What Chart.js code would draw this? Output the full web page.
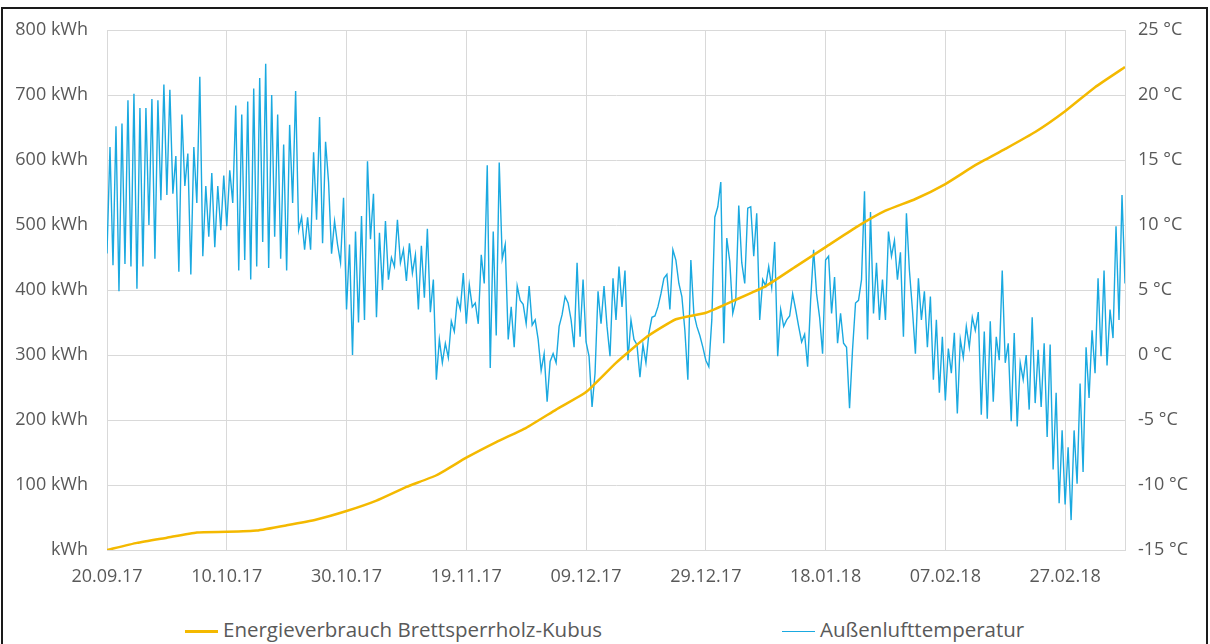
<!DOCTYPE html>
<html>
<head>
<meta charset="utf-8">
<script src="https://cdn.jsdelivr.net/npm/chart.js@4.4.1/dist/chart.umd.min.js"></script>
<style>
  body { margin: 0; background: #fff; }
  #wrap { position: relative; width: 1210px; height: 644px; overflow: hidden; background: #fff; }
  #frame { position: absolute; left: 1px; top: 7px; width: 1203px; height: 700px; border: 2px solid #1a1a1a; }
  #chartBox { position: absolute; left: 0; top: 0; width: 1210px; height: 600px; }
  #legend { position: absolute; top: 615px; left: 0; width: 1210px; height: 28px;
            font-family: 'Open Sans', sans-serif; font-size: 20.5px; color: #595959; }
  .item { position: absolute; top: 0; line-height: 28px; white-space: nowrap; }
  .swatch { display: inline-block; width: 33px; vertical-align: middle; margin-right: 5px; }
</style>
</head>
<body>
<div id="wrap">
  <div id="frame"></div>
  <div id="chartBox"><canvas id="energyChart" width="1210" height="600"></canvas></div>
  <div id="legend"></div>
</div>
<script>
// x axis: days since 20.09.17
const tickDays = [0, 20, 40, 60, 80, 100, 120, 140, 160];
const tickLabels = ['20.09.17', '10.10.17', '30.10.17', '19.11.17', '09.12.17', '29.12.17', '18.01.18', '07.02.18', '27.02.18'];

// cumulative energy use, kWh, every 5 days
const energyDays = [0, 5, 10, 15, 20, 25, 30, 35, 40, 45, 50, 55, 60, 65, 70, 75, 80, 85,
                    90, 95, 100, 105, 110, 115, 120, 125, 130, 135, 140, 145, 150, 155, 160, 165, 170];
const energyKWh = [0, 11, 19, 27, 28, 30, 38, 47, 60, 76, 97, 115, 142, 166, 188, 216, 243, 288,
                   327, 355, 365, 385, 406, 436, 466, 496, 522, 540, 563, 592, 617, 643, 675, 712, 743];

// outdoor air temperature, °C, one reading every half day from 20.09.17
const tempStepDays = 0.5;
const temperature = [
  7.8, 16.0, 6.9, 17.6, 4.9, 17.8, 7.0, 19.6, 6.8, 20.1,
  5.1, 19.0, 6.8, 19.0, 10.0, 19.7, 7.4, 19.6, 11.9, 20.8,
  12.3, 20.4, 12.4, 15.3, 6.4, 18.5, 13.0, 15.5, 6.2, 16.0,
  11.7, 21.4, 7.6, 13.0, 9.1, 14.0, 8.3, 13.0, 9.6, 13.8,
  9.9,
  14.2, 11.7, 19.2, 6.5, 18.5, 7.3, 19.5, 5.8, 20.5, 6.8,
  21.3, 8.7, 22.4, 6.7, 20.0, 9.1, 18.5, 7.4, 16.2, 6.5,
  17.7, 11.7, 20.3, 9.6, 10.6, 8.1, 10.6, 8.1, 15.6, 10.4,
  18.3, 8.6, 16.4, 13.3, 7.8, 10.3, 8.5, 7.1, 12.1, 3.5,
  8.5, 0.0, 9.5, 2.5, 10.7, 2.7, 14.9, 8.9, 12.4, 2.9,
  9.4, 5.0, 10.3, 5.8, 7.5, 6.8, 10.4, 7.1, 8.1, 5.7,
  8.6, 6.3, 7.7, 3.5, 8.4, 4.4, 9.7, 3.3, 5.8, -1.9,
  1.2, -0.6, 0.9, -0.2, 2.6, 1.8, 4.3, 3.5, 6.3, 2.4,
  5.4, 3.7, 4.0, 2.4, 7.7, 5.5, 14.6, -1.0, 9.5, 1.5,
  14.8, 7.4, 8.5, 1.2, 3.7, 0.6, 5.3, 4.2, 3.9, 2.4,
  5.3, 2.3, 2.7, 1.2, -1.2, 0.1, -3.6, -0.5, 0.1, -0.6,
  2.2, 3.1, 4.5, 4.0, 2.7, 0.6, 7.1, 1.4, 5.8, 1.0,
  -0.1, -4.0, -1.4, 4.9, 2.4, 5.3, 2.2, -0.1, 5.9, 2.7,
  6.8, 3.7, 6.5, -0.4, 2.7, 1.2, 0.8, -1.7, 0.8, -0.6,
  1.7, 2.9, 3.0, 3.7, 4.7, 5.9, 6.2, 3.5, 8.1, 7.3,
  5.5, 4.5, 1.9, -1.9, 7.3, 3.2, 2.2, 1.5, 0.6, -0.4,
  -0.9, 2.7, 10.6, 11.4, 13.3, 0.9, 9.0, 7.2, 3.2, 4.2,
  11.5, 7.1, 5.5, 11.3, 11.4, 7.6, 10.9, 2.7, 5.8, 5.3,
  6.8, 5.2, 8.7, -0.1, 3.5, 2.2, 2.7, 3.0, 4.7, 3.5,
  2.2, 1.0, 1.6, -0.9, 4.2, 8.1, 4.7, 2.9, 0.1, 7.3,
  7.6, 3.2, 6.0, 0.9, 3.2, 0.9, 0.6, -4.1, 0.4, 4.0,
  4.2, 5.8, 12.6, 1.2, 11.0, 3.2, 7.1, 2.7, 5.8, 2.7,
  9.5, 7.6, 8.8, 5.8, 7.9, 1.4, 10.9, 6.5, 3.5, 0.1,
  5.9, 2.7, 4.9, 0.6, 4.5, -1.9, 2.7, -2.9, 1.4, -3.5,
  0.5, -1.4, 1.7, -4.5, 1.2, -0.2, 2.2, 0.6, 2.9, 1.9,
  3.3, -4.6, 1.8, -4.9, 2.6, -3.6, 1.4, -0.4, 6.5, -0.6,
  0.9, -5.1, 1.7, -5.5, -0.6, -1.9, 0.0, -4.2, 2.9, -3.7,
  0.4, -4.0, 0.9, -6.3, 0.8, -8.8, -2.9, -11.4, -5.8, -11.5,
  -7.1, -12.7, -5.8, -9.9, -2.2, -9.0, 0.6, -3.3, 1.9, -1.4,
  5.9, -0.1, 6.5, -0.8, 3.5, 1.3, 9.9, 2.7, 12.3, 5.5
];

const seriesNames = ['Energieverbrauch Brettsperrholz-Kubus', 'Außenlufttemperatur'];
const seriesColors = ['#F4B900', '#1AA9E0'];

const textColor = '#595959';
const gridColor = '#d9d9d9';
const tickFont = { family: "'Open Sans', sans-serif", size: 18 };

const ctx = document.getElementById('energyChart').getContext('2d');
new Chart(ctx, {
    type: 'line',
    data: {
        datasets: [{
            label: seriesNames[0],
            data: energyDays.map((d, i) => ({ x: d, y: energyKWh[i] })),
            borderColor: seriesColors[0],
            backgroundColor: seriesColors[0],
            borderWidth: 2.5,
            pointRadius: 0,
            tension: 0.15,
            yAxisID: 'y'
        }, {
            label: seriesNames[1],
            data: temperature.map((t, i) => ({ x: i * tempStepDays, y: t })),
            borderColor: seriesColors[1],
            backgroundColor: seriesColors[1],
            borderWidth: 1.4,
            pointRadius: 0,
            tension: 0,
            yAxisID: 'y1'
        }]
    },
    options: {
        responsive: false,
        animation: false,
        layout: { padding: { top: 30, left: 0, right: 0, bottom: 0 } },
        plugins: {
            legend: { display: false },
            tooltip: { enabled: false }
        },
        scales: {
            x: {
                type: 'linear',
                min: 0,
                max: 170,
                afterBuildTicks: s => { s.ticks = tickDays.map(v => ({ value: v })); },
                afterFit: s => { s.height = 50; },
                ticks: {
                    callback: v => tickLabels[tickDays.indexOf(v)],
                    padding: 16,
                    maxRotation: 0,
                    autoSkip: false,
                    color: textColor,
                    font: tickFont
                },
                grid: { color: gridColor, drawTicks: false },
                border: { color: gridColor }
            },
            y: {
                position: 'left',
                min: 0,
                max: 800,
                afterFit: s => { s.width = 107; },
                ticks: {
                    stepSize: 100,
                    callback: v => v === 0 ? 'kWh' : v + ' kWh',
                    padding: 19,
                    color: textColor,
                    font: tickFont
                },
                grid: { color: gridColor, drawTicks: false },
                border: { color: gridColor }
            },
            y1: {
                position: 'right',
                min: -15,
                max: 25,
                afterFit: s => { s.width = 85; },
                ticks: {
                    stepSize: 5,
                    callback: v => v + ' °C',
                    padding: 13,
                    color: textColor,
                    font: tickFont
                },
                grid: { drawOnChartArea: false, drawTicks: false },
                border: { color: gridColor }
            }
        }
    }
});

// legend below the plot
const legendLeft = [185, 782];
const legend = document.getElementById('legend');
seriesNames.forEach((name, i) => {
    const item = document.createElement('div');
    item.className = 'item';
    item.style.left = legendLeft[i] + 'px';
    const sw = document.createElement('span');
    sw.className = 'swatch';
    sw.style.background = seriesColors[i];
    sw.style.height = i === 0 ? '2.5px' : '1.5px';
    item.appendChild(sw);
    item.appendChild(document.createTextNode(name));
    legend.appendChild(item);
});
</script>
</body>
</html>
